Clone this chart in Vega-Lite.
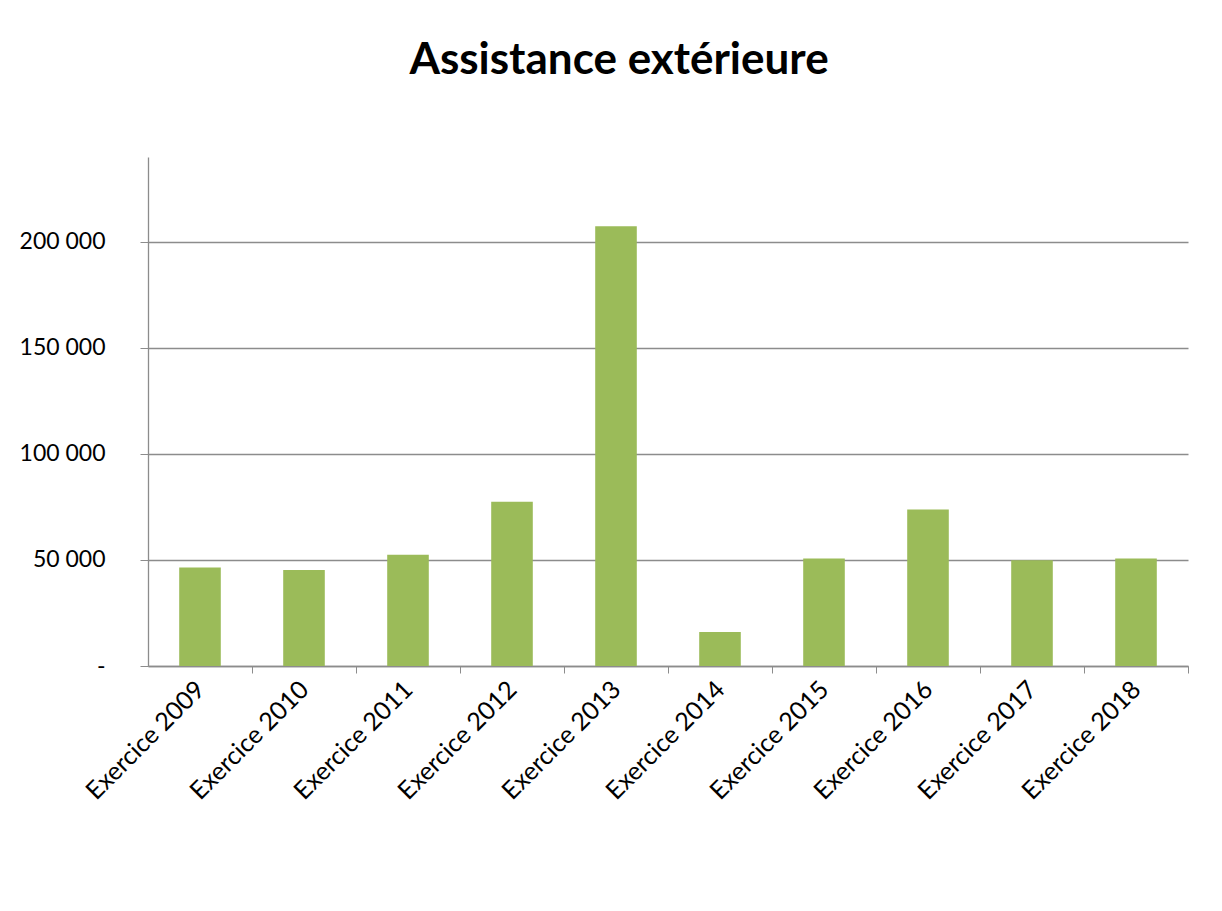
{
  "$schema": "https://vega.github.io/schema/vega-lite/v6.json",
  "autosize": {"type": "none"},
  "padding": {"left": 148, "top": 157, "right": 34, "bottom": 245},
  "width": 1040,
  "height": 509,
  "background": "white",
  "title": {
    "text": "Assistance extérieure",
    "font": "Lato",
    "fontSize": 44,
    "fontWeight": "bold",
    "color": "#000000",
    "anchor": "middle",
    "baseline": "alphabetic",
    "offset": 39,
    "dx": -49
  },
  "data": {
    "values": [
      {"exercice": "Exercice 2009", "montant": 46400},
      {"exercice": "Exercice 2010", "montant": 45300},
      {"exercice": "Exercice 2011", "montant": 52500},
      {"exercice": "Exercice 2012", "montant": 77400},
      {"exercice": "Exercice 2013", "montant": 207400},
      {"exercice": "Exercice 2014", "montant": 16000},
      {"exercice": "Exercice 2015", "montant": 50700},
      {"exercice": "Exercice 2016", "montant": 73800},
      {"exercice": "Exercice 2017", "montant": 49900},
      {"exercice": "Exercice 2018", "montant": 50700}
    ]
  },
  "mark": {"type": "bar", "color": "#9BBB59"},
  "encoding": {
    "x": {
      "field": "exercice",
      "type": "nominal",
      "sort": null,
      "title": null,
      "scale": {"paddingInner": 0.6, "paddingOuter": 0.3},
      "axis": {
        "labelAngle": -45,
        "labelAlign": "right",
        "labelBaseline": "middle",
        "labelFont": "Lato",
        "labelFontSize": 25,
        "labelColor": "#000000",
        "labelPadding": 12,
        "bandPosition": 1,
        "tickOffset": 31.2,
        "labelOffset": -31.2,
        "tickExtra": false,
        "tickSize": 7,
        "tickColor": "#8C8C8C",
        "domainColor": "#8C8C8C",
        "domainWidth": 1.3,
        "grid": false
      }
    },
    "y": {
      "field": "montant",
      "type": "quantitative",
      "title": null,
      "scale": {"domain": [0, 240000], "nice": false},
      "axis": {
        "values": [0, 50000, 100000, 150000, 200000],
        "labelExpr": "datum.value == 0 ? '-' : replace(format(datum.value, ','), regexp(',', 'g'), ' ')",
        "labelFont": "Lato",
        "labelFontSize": 23,
        "labelColor": "#000000",
        "labelPadding": 35,
        "tickSize": 8,
        "tickColor": "#8C8C8C",
        "domainColor": "#8C8C8C",
        "domainWidth": 1.3,
        "grid": true,
        "gridColor": "#8C8C8C",
        "gridWidth": 1.3
      }
    }
  },
  "config": {"view": {"stroke": null}}
}
